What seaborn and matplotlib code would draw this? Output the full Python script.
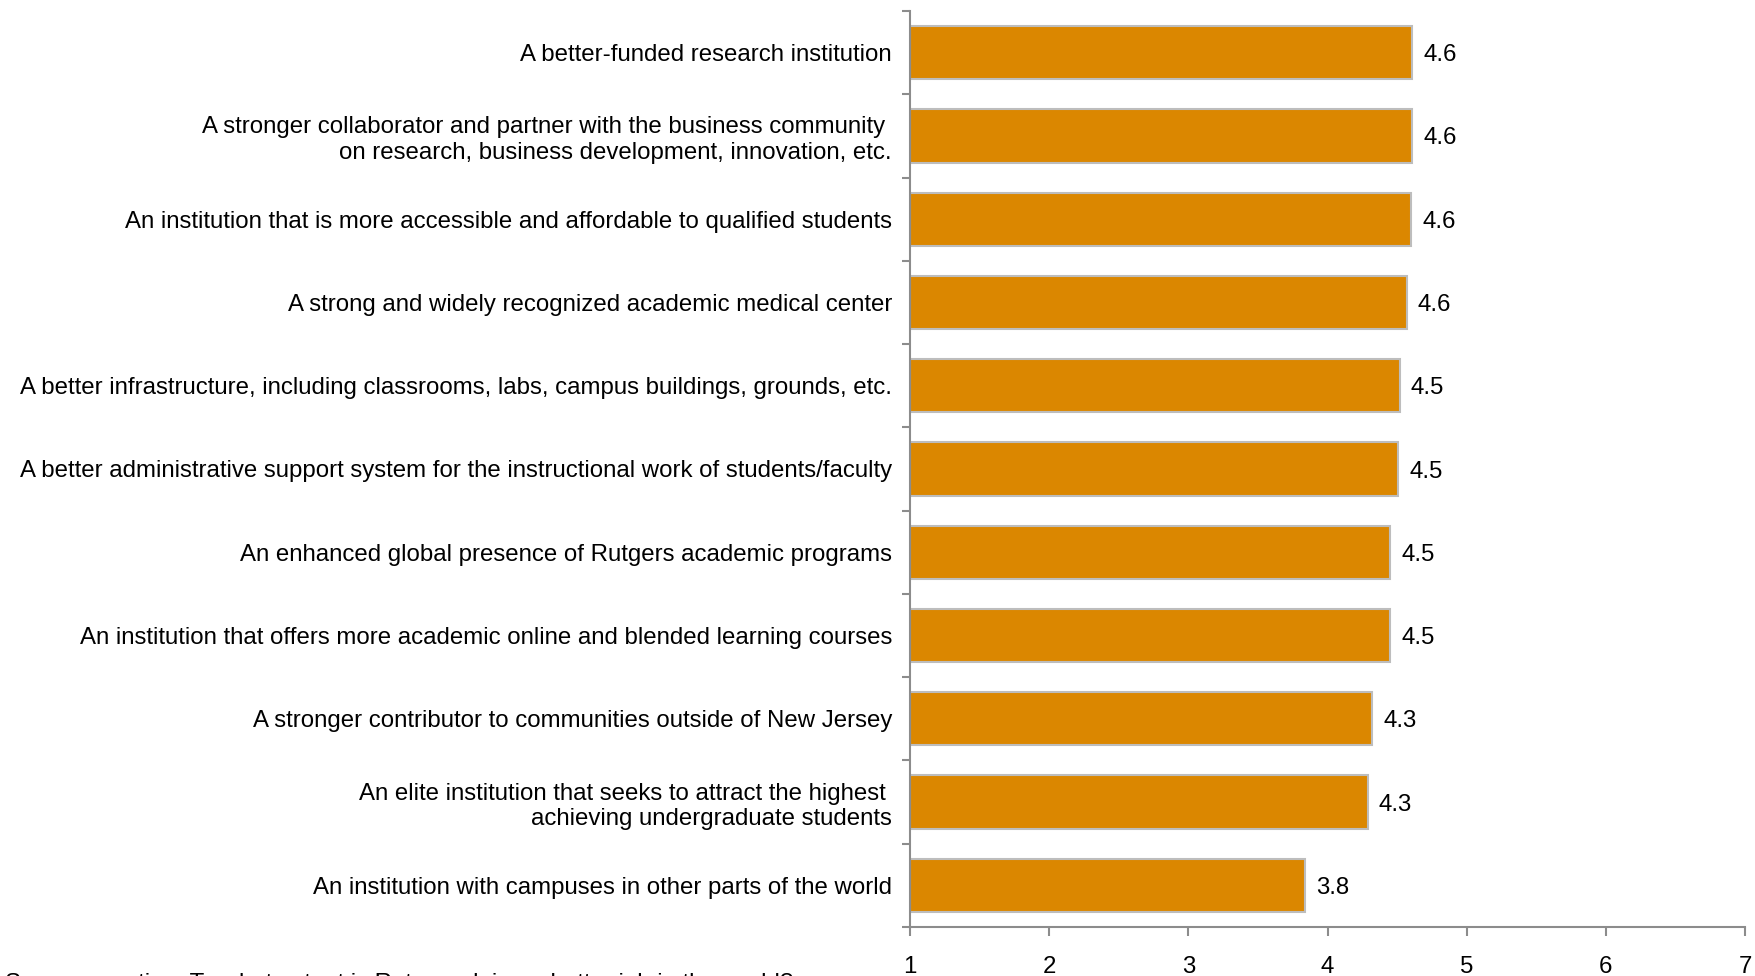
import matplotlib
matplotlib.use("Agg")
import matplotlib.pyplot as plt
import seaborn as sns
import pandas as pd
import numpy as np

categories = [
    "A better-funded research institution",
    "A stronger collaborator and partner with the business community \non research, business development, innovation, etc.",
    "An institution that is more accessible and affordable to qualified students",
    "A strong and widely recognized academic medical center",
    "A better infrastructure, including classrooms, labs, campus buildings, grounds, etc.",
    "A better administrative support system for the instructional work of students/faculty",
    "An enhanced global presence of Rutgers academic programs",
    "An institution that offers more academic online and blended learning courses",
    "A stronger contributor to communities outside of New Jersey",
    "An elite institution that seeks to attract the highest \nachieving undergraduate students",
    "An institution with campuses in other parts of the world",
]
values = [4.61, 4.61, 4.60, 4.57, 4.52, 4.51, 4.45, 4.45, 4.32, 4.29, 3.84]
value_labels = ["4.6", "4.6", "4.6", "4.6", "4.5", "4.5", "4.5", "4.5", "4.3", "4.3", "3.8"]
x_ticks = [1, 2, 3, 4, 5, 6, 7]
footnote = "Survey question: To what extent is Rutgers doing a better job in the world?"

sns.set_theme(style="white")
plt.rcParams["font.family"] = ["Liberation Sans", "DejaVu Sans"]
FS = 17.3

df = pd.DataFrame({"category": categories, "value": values})

fig = plt.figure(figsize=(17.55, 9.76), dpi=100)
ax = fig.add_axes([910 / 1755, 1 - 927 / 976, (1745 - 910) / 1755, (927 - 11) / 976])

sns.barplot(data=df, y="category", x="value", orient="h", color="#DB8700",
            edgecolor="#BDBDBD", linewidth=1.5, width=0.64, ax=ax, saturation=1)

# bars start at 1 (axis origin)
for p in ax.patches:
    w = p.get_width()
    p.set_x(1)
    p.set_width(w - 1)

ax.set_xlim(1, 7)
ax.set_ylim(len(categories) - 0.5, -0.5)
ax.set_xticks(x_ticks)
ax.set_xticklabels([str(t) for t in x_ticks], fontsize=FS, color="#000000")
ax.set_xlabel("")
ax.set_ylabel("")
ax.set_yticks(range(len(categories)))
ax.set_yticklabels(categories, fontsize=FS, color="#000000", ha="right")
ax.set_yticks(np.arange(-0.5, len(categories), 1), minor=True)

for i, (v, lab) in enumerate(zip(values, value_labels)):
    ax.annotate(lab, xy=(v, i), xytext=(8, 0), textcoords="offset points",
                va="center_baseline", ha="left", fontsize=FS, color="#000000")

for s in ["top", "right"]:
    ax.spines[s].set_visible(False)
for s in ["left", "bottom"]:
    ax.spines[s].set_color("#8C8C8C")
    ax.spines[s].set_linewidth(1.5)

ax.tick_params(axis="x", which="major", direction="out", length=6.5, width=1.5,
               color="#8C8C8C", pad=14.5, bottom=True)
ax.tick_params(axis="y", which="major", length=0, pad=13)
ax.tick_params(axis="y", which="minor", direction="out", length=6, width=1.5,
               color="#8C8C8C", left=True)
ax.grid(False)

fig.text(5 / 1755, 1 - 990 / 976, footnote, ha="left", va="baseline", fontsize=FS, color="#000000")

fig.savefig("out.png", dpi=100)
